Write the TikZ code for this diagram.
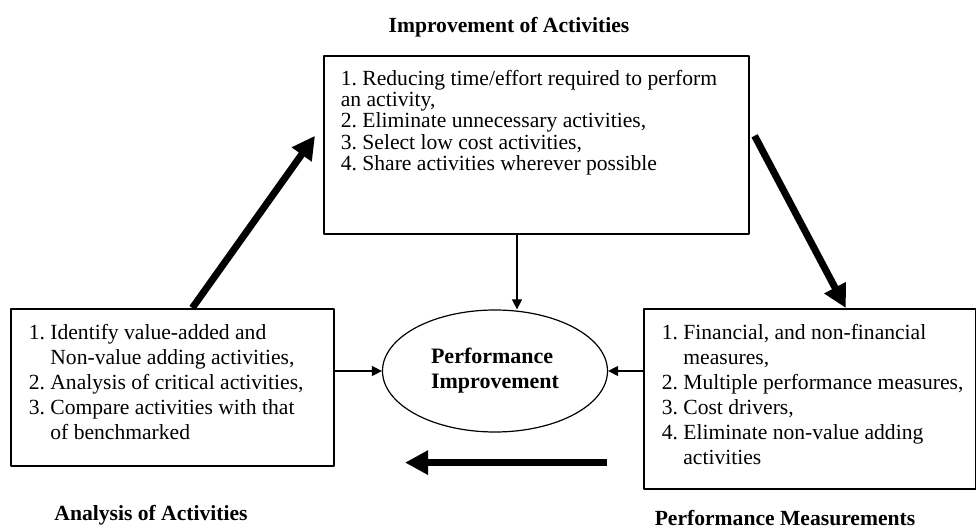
\documentclass[tikz,border=0pt]{standalone}
\usepackage{fontspec}
\setmainfont{Liberation Serif}
\usetikzlibrary{arrows.meta,calc,shapes.geometric}

\begin{document}
\begin{tikzpicture}[x=0.5pt, y=-0.5pt, font=\fontsize{10.8}{12.5}\selectfont, line join=round,
box/.style={draw, line width=0.8pt, anchor=north west, inner xsep=8.5pt, inner ysep=7pt},
heading/.style={font=\fontsize{10.8}{12.5}\selectfont\bfseries},
bigarrow/.style={line width=3.5pt, -{Triangle[length=11.5pt,width=11.5pt]}},
thinarrow/.style={line width=0.6pt, -{Triangle[length=5pt,width=5pt]}}]
\useasboundingbox (0,0) rectangle (976,529);
%Performance improvement cycle
\node[box] (top) at (323,55) {\parbox[t][75pt][t]{195.5pt}{\raggedright\baselineskip=10.7pt
1.~Reducing time/effort required to perform\\
an activity,\\
2.~Eliminate unnecessary activities,\\
3.~Select low cost activities,\\
4.~Share activities wherever possible}};
\node[box, inner xsep=9pt, inner ysep=7.5pt] (left) at (10,308) {\parbox[t][63.5pt][t]{143.5pt}{\raggedright
1.~Identify value-added and\\
\phantom{1.~}Non-value adding activities,\\
2.~Analysis of critical activities,\\
3.~Compare activities with that\\
\phantom{1.~}of benchmarked}};
\node[box, inner xsep=6pt, inner ysep=7.5pt] (right) at (643,308) {\parbox[t][75pt][t]{154pt}{\raggedright\leftskip=3pt
1.~Financial, and non-financial\\
\phantom{1.~}measures,\\
\mbox{2.~Multiple performance measures,}\\
3.~Cost drivers,\\
4.~Eliminate non-value adding\\
\phantom{1.~}activities}};
\node[ellipse, draw, line width=0.6pt, minimum width=112.5pt, minimum height=61pt, inner sep=0pt,
  align=left, font=\fontsize{11}{12.5}\selectfont\bfseries] (ell) at (495,371) {Performance\\Improvement};

\node[heading] (t1) at (509,27) {Improvement of Activities};
\node[heading] (t2) at (151,515) {Analysis of Activities};
\node[heading] (t3) at (785,518) {Performance Measurements};

\path (ell.south) ++(112,30) coordinate (b1) ++(-202,0) coordinate (b2);
\draw[bigarrow] ($(left.north)+(20,0)$) -- ($(top.west)+(-8,-9)$);
\draw[bigarrow] ($(top.east)+(5,-9)$) -- ($(right.north)+(36,0)$);
\draw[bigarrow] (b1) -- (b2);
\draw[thinarrow] (left.east |- ell.west) -- (ell.west);
\draw[thinarrow] (right.west |- ell.east) -- (ell.east);
\draw[thinarrow] ([xshift=11pt]ell.north |- top.south) -- ([xshift=11pt]ell.north);
\end{tikzpicture}
\end{document}
